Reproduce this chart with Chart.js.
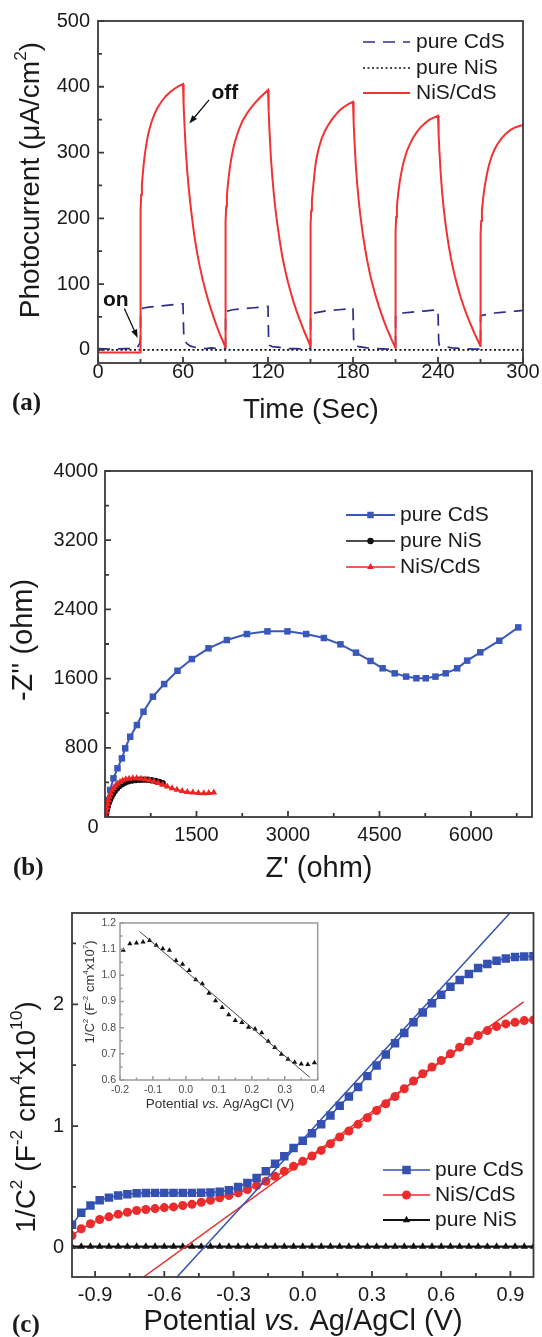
<!DOCTYPE html>
<html lang="en">
<head>
<meta charset="UTF-8">
<title>NiS/CdS photoelectrochemistry</title>
<script src="https://cdn.jsdelivr.net/npm/chart.js"></script>
<style>
    body { margin: 0; background: #fff; }
    #page { position: relative; width: 542px; height: 1337px; }
    canvas { position: absolute; }
</style>
</head>
<body>
<div id="page">
    <canvas id="chartA" width="542" height="425" style="left:0;top:0"></canvas>
    <canvas id="chartB" width="542" height="465" style="left:0;top:430px"></canvas>
    <canvas id="chartC" width="542" height="462" style="left:0;top:875px"></canvas>
    <canvas id="chartInset" width="250" height="205" style="left:80px;top:910px"></canvas>
</div>
<script>
    // (a) photocurrent response, uA/cm2 vs seconds
    const cdsTime = [0, 10, 20, 26, 28, 29.5, 30, 30.1, 33, 36, 40, 45, 50, 55, 60,
        60.2, 60.5, 61, 61.5, 63, 65, 68, 72, 76, 80, 85, 90,
        90.1, 95, 100, 105, 110, 115, 120,
        120.2, 120.5, 121, 123, 127, 133, 140, 145, 150,
        150.1, 155, 160, 165, 170, 175, 180,
        180.2, 180.5, 181, 184, 190, 197, 205, 210,
        210.1, 215, 220, 225, 230, 235, 240,
        240.2, 240.5, 241, 244, 250, 257, 265, 270,
        270.1, 275, 280, 285, 290, 295, 300];
    const cdsCurrent = [2, 1, 2, 2, 4, 10, 18, 62, 64, 65, 66, 67, 68, 69, 70,
        50, 25, 17, 13, 9, 6, 4, 3, 2, 3, 2, 2,
        58, 61, 62, 63, 64, 65, 66,
        40, 12, 7, 5, 4, 2, 2, 1, 2,
        55, 57, 59, 60, 61, 62, 64,
        40, 12, 7, 5, 3, 2, 1, 1,
        54, 56, 57, 58, 59, 60, 61,
        40, 13, 7, 5, 3, 2, 1, 1,
        52, 54, 56, 57, 58, 59, 60];
    const nisTime = [0, 300];
    const nisCurrent = [0, 0];
    const hybridTime = [0, 29.9, 30, 30.1, 30.5, 31, 32, 33, 34, 35, 36, 38, 40, 42, 45, 48, 51, 54, 57, 60,
        60.3, 60.6, 61, 62, 63, 64, 65, 66, 67, 68, 69, 70, 72, 74, 76, 78, 80, 82, 84, 86, 88, 89.9,
        90, 90.1, 90.5, 91, 92, 93, 94, 95, 96, 98, 100, 102, 105, 108, 111, 114, 117, 120,
        120.3, 120.6, 121, 122, 123, 124, 125, 126, 127, 128, 129, 130, 132, 134, 136, 138, 140, 142, 144, 146, 148, 149.9,
        150, 150.1, 150.5, 151, 152, 153, 154, 155, 156, 158, 160, 162, 165, 168, 171, 174, 177, 180,
        180.3, 180.6, 181, 182, 183, 184, 185, 186, 187, 188, 189, 190, 192, 194, 196, 198, 200, 202, 204, 206, 208, 209.9,
        210, 210.1, 210.5, 211, 212, 213, 214, 215, 216, 218, 220, 222, 225, 228, 231, 234, 237, 240,
        240.3, 240.6, 241, 242, 243, 244, 245, 246, 247, 248, 249, 250, 252, 254, 256, 258, 260, 262, 264, 266, 268, 269.9,
        270, 270.1, 270.5, 271, 272, 273, 274, 275, 276, 278, 280, 282, 285, 288, 291, 294, 297, 300];
    const hybridCurrent = [-4, -4, -4, 212, 236, 252, 277, 296, 311, 323, 333, 348, 359, 368, 378, 386, 392, 397, 401, 404,
        398, 372, 345, 302, 272, 247, 226, 207, 190, 174, 160, 147, 125, 106, 89, 74, 60, 47, 35, 24, 14, 4,
        4, 195, 218, 235, 258, 276, 290, 301, 311, 326, 338, 348, 359, 368, 376, 383, 389, 395,
        389, 363, 336, 294, 264, 240, 219, 201, 185, 170, 156, 143, 122, 104, 88, 73, 60, 48, 37, 26, 16, 6,
        6, 190, 212, 228, 250, 272, 288, 299, 308, 322, 332, 340, 350, 358, 365, 370, 374, 377,
        371, 346, 320, 280, 251, 228, 208, 191, 175, 161, 148, 136, 115, 98, 82, 68, 55, 43, 32, 22, 12, 3,
        3, 180, 202, 218, 240, 256, 268, 279, 288, 302, 312, 321, 331, 339, 345, 350, 353, 356,
        350, 327, 302, 265, 238, 216, 197, 181, 166, 153, 141, 130, 111, 95, 80, 67, 55, 44, 34, 24, 15, 6,
        6, 175, 196, 212, 233, 249, 261, 272, 281, 295, 305, 313, 322, 329, 334, 338, 340, 342];
    const timeTicks = [0, 60, 120, 180, 240, 300];
    const timeMarks = [0, 30, 60, 90, 120, 150, 180, 210, 240, 270, 300];
    const currentTicks = [0, 100, 200, 300, 400, 500];
    const currentMarks = [0, 50, 100, 150, 200, 250, 300, 350, 400, 450, 500];

    // (b) Nyquist plots, ohm
    const cdsZre = [5, 31, 85, 139, 205, 277, 331, 413, 523, 631, 785, 970, 1188, 1424, 1697, 1998, 2326, 2663,
        2991, 3298, 3588, 3860, 4115, 4353, 4551, 4749, 4936, 5105, 5258, 5417, 5586, 5773, 5937, 6152, 6464, 6775];
    const cdsZim = [100, 197, 312, 447, 563, 678, 794, 928, 1063, 1217, 1391, 1537, 1691, 1826, 1950, 2046, 2115, 2146,
        2146, 2115, 2069, 1996, 1900, 1804, 1719, 1661, 1623, 1604, 1604, 1623, 1661, 1719, 1808, 1904, 2038, 2192];
    const nisZre = [10, 20, 32, 45, 62, 82, 105, 130, 160, 195, 235, 280, 330, 385, 445, 505, 570, 635, 700, 765, 830, 890, 945];
    const nisZim = [15, 50, 90, 125, 165, 200, 235, 268, 300, 330, 357, 380, 398, 412, 422, 428, 431, 432, 430, 425, 417, 405, 392];
    const hybridZre = [12, 22, 32, 44, 58, 74, 94, 116, 142, 172, 206, 246, 290, 340, 395, 455, 520, 590, 660, 730,
        800, 870, 945, 1020, 1100, 1180, 1265, 1350, 1440, 1530, 1620, 1700, 1783];
    const hybridZim = [10, 60, 108, 150, 195, 235, 270, 305, 335, 362, 385, 405, 422, 435, 443, 447, 447, 443, 436, 425,
        410, 392, 372, 352, 333, 316, 301, 290, 282, 277, 276, 278, 282];
    const zreTicks = [1500, 3000, 4500, 6000];
    const zreMarks = [750, 1500, 2250, 3000, 3750, 4500, 5250, 6000, 6750];
    const zimTicks = [800, 1600, 2400, 3200, 4000];
    const zimMarks = [400, 800, 1200, 1600, 2000, 2400, 2800, 3200, 3600, 4000];

    // (c) Mott-Schottky, 1/C2 in 1e10 F-2 cm4 vs potential (V)
    const potential = [-1.00, -0.96, -0.92, -0.88, -0.84, -0.80, -0.76, -0.72, -0.68, -0.64, -0.60, -0.56, -0.52,
        -0.48, -0.44, -0.40, -0.36, -0.32, -0.28, -0.24, -0.20, -0.16, -0.12, -0.08, -0.04, 0.00, 0.04, 0.08,
        0.12, 0.16, 0.20, 0.24, 0.28, 0.32, 0.36, 0.40, 0.44, 0.48, 0.52, 0.56, 0.60, 0.64, 0.68, 0.72, 0.76,
        0.80, 0.84, 0.88, 0.92, 0.96, 1.00];
    const cdsMs = [0.19, 0.287, 0.347, 0.39, 0.412, 0.429, 0.44, 0.447, 0.45, 0.451, 0.451, 0.451, 0.451,
        0.451, 0.452, 0.455, 0.461, 0.472, 0.50, 0.533, 0.574, 0.628, 0.691, 0.751, 0.82, 0.88, 0.94, 1.014,
        1.087, 1.167, 1.243, 1.32, 1.41, 1.497, 1.587, 1.68, 1.765, 1.852, 1.932, 2.008, 2.079, 2.145, 2.199,
        2.249, 2.298, 2.331, 2.358, 2.377, 2.388, 2.393, 2.395];
    const hybridMs = [0.10, 0.156, 0.197, 0.232, 0.254, 0.276, 0.292, 0.306, 0.314, 0.322, 0.33, 0.336, 0.347,
        0.357, 0.374, 0.39, 0.41, 0.429, 0.451, 0.478, 0.511, 0.546, 0.587, 0.628, 0.669, 0.71, 0.754, 0.80,
        0.855, 0.91, 0.959, 1.014, 1.068, 1.128, 1.183, 1.243, 1.306, 1.37, 1.43, 1.485, 1.538, 1.593, 1.648,
        1.697, 1.743, 1.784, 1.817, 1.839, 1.852, 1.866, 1.872];
    const nisMs = [0.01, 0.01, 0.01, 0.01, 0.01, 0.01, 0.01, 0.01, 0.01, 0.01, 0.01, 0.01, 0.01, 0.01, 0.01,
        0.01, 0.01, 0.01, 0.01, 0.01, 0.01, 0.01, 0.01, 0.01, 0.01, 0.01, 0.01, 0.01, 0.01, 0.01, 0.01, 0.01,
        0.01, 0.01, 0.01, 0.01, 0.01, 0.01, 0.01, 0.01, 0.01, 0.01, 0.01, 0.01, 0.01, 0.01, 0.01, 0.01, 0.01,
        0.01, 0.01];
    const cdsFitV = [-0.545, 0.898];
    const cdsFitMs = [-0.24, 2.75];
    const hybridFitV = [-0.69, 0.957];
    const hybridFitMs = [-0.24, 2.02];
    const potentialTicks = [-0.9, -0.6, -0.3, 0, 0.3, 0.6, 0.9];
    const potentialMarks = [-0.9, -0.75, -0.6, -0.45, -0.3, -0.15, 0, 0.15, 0.3, 0.45, 0.6, 0.75, 0.9];
    const msTicks = [0, 1, 2];
    const msMarks = [0, 0.5, 1, 1.5, 2, 2.5];

    // inset: pure NiS, 1/C2 in 1e7
    const insetV = [-0.19, -0.17, -0.15, -0.13, -0.11, -0.09, -0.07, -0.05, -0.03, -0.01, 0.01, 0.03, 0.05, 0.07,
        0.09, 0.11, 0.13, 0.15, 0.17, 0.19, 0.21, 0.23, 0.25, 0.27, 0.29, 0.31, 0.33, 0.35, 0.37, 0.39];
    const insetMs = [1.096, 1.121, 1.124, 1.127, 1.133, 1.115, 1.102, 1.096, 1.057, 1.042, 1.018, 0.983, 0.968,
        0.932, 0.903, 0.877, 0.849, 0.827, 0.820, 0.802, 0.795, 0.781, 0.748, 0.724, 0.698, 0.679, 0.668, 0.661,
        0.659, 0.666];
    const insetFitV = [-0.141, 0.376];
    const insetFitMs = [1.168, 0.610];
    const insetVTicks = [-0.2, -0.1, 0, 0.1, 0.2, 0.3, 0.4];
    const insetVMarks = [-0.2, -0.15, -0.1, -0.05, 0, 0.05, 0.1, 0.15, 0.2, 0.25, 0.3, 0.35, 0.4];
    const insetMsTicks = [0.6, 0.7, 0.8, 0.9, 1.0, 1.1, 1.2];
    const insetMsMarks = [0.6, 0.65, 0.7, 0.75, 0.8, 0.85, 0.9, 0.95, 1.0, 1.05, 1.1, 1.15, 1.2];

    const SANS = "'Liberation Sans', Arial, Helvetica, sans-serif";
    const SERIF = "'Liberation Serif', 'Times New Roman', serif";
    Chart.defaults.font.family = SANS;
    Chart.defaults.color = '#1a1a1a';

    function pts(xs, ys) {
        return xs.map((x, i) => ({x: x, y: ys[i]}));
    }

    function axis(tickValues, min, max, thick, pad, size, fmt, color) {
        return {
            type: 'linear', min: min, max: max,
            grid: {display: false, drawTicks: false},
            border: {display: false},
            ticks: {padding: pad, font: {size: size, lineHeight: 1}, color: color || '#1a1a1a',
                callback: fmt, autoSkip: false, maxRotation: 0, minRotation: 0},
            afterBuildTicks: s => { s.ticks = tickValues.map(v => ({value: v})); },
            afterFit: s => { if (s.isHorizontal()) s.height = thick; else s.width = thick; }
        };
    }

    function drawMarker(ctx, style, x, y, r, color) {
        ctx.fillStyle = color;
        ctx.beginPath();
        if (style === 'rect') {
            const s = r * Math.SQRT1_2;
            ctx.rect(x - s, y - s, 2 * s, 2 * s);
        } else if (style === 'triangle') {
            ctx.moveTo(x, y - r);
            ctx.lineTo(x + r * 0.866, y + r / 2);
            ctx.lineTo(x - r * 0.866, y + r / 2);
            ctx.closePath();
        } else {
            ctx.arc(x, y, r, 0, Math.PI * 2);
        }
        ctx.fill();
    }

    // box round the plot and inward tick marks
    function framePlugin(cfg) {
        return {
            id: 'frame',
            beforeDatasetsDraw(chart) {
                if (!cfg.fill) return;
                const a = chart.chartArea;
                chart.ctx.save();
                chart.ctx.fillStyle = cfg.fill;
                chart.ctx.fillRect(a.left, a.top, a.right - a.left, a.bottom - a.top);
                chart.ctx.restore();
            },
            afterDraw(chart) {
                const ctx = chart.ctx, a = chart.chartArea;
                const xs = chart.scales.x, ys = chart.scales.y;
                ctx.save();
                ctx.strokeStyle = cfg.color;
                ctx.lineWidth = cfg.width;
                ctx.strokeRect(a.left, a.top, a.right - a.left, a.bottom - a.top);
                ctx.beginPath();
                cfg.xMarks.forEach(v => {
                    const p = xs.getPixelForValue(v);
                    const len = cfg.xMajor.includes(v) ? cfg.major : cfg.minor;
                    ctx.moveTo(p, a.bottom);
                    ctx.lineTo(p, a.bottom - len);
                });
                cfg.yMarks.forEach(v => {
                    const p = ys.getPixelForValue(v);
                    const len = cfg.yMajor.includes(v) ? cfg.major : cfg.minor;
                    ctx.moveTo(a.left, p);
                    ctx.lineTo(a.left + len, p);
                });
                ctx.stroke();
                ctx.restore();
            }
        };
    }

    // titles with superscripts / italics; positions in page pixels
    function textPlugin(items, offX, offY) {
        return {
            id: 'richText',
            afterDraw(chart) {
                const ctx = chart.ctx;
                items.forEach(it => {
                    const fam = it.family || SANS;
                    const fontFor = st => (st === 'i' ? 'italic ' : '') + (it.bold ? 'bold ' : '') +
                        (st === 's' ? it.size * 0.62 : it.size) + 'px ' + fam;
                    ctx.save();
                    ctx.translate(it.x - offX, it.y - offY);
                    if (it.rot) ctx.rotate(-Math.PI / 2);
                    ctx.fillStyle = it.color || '#1a1a1a';
                    ctx.textBaseline = 'middle';
                    ctx.textAlign = 'left';
                    let total = 0;
                    const widths = it.segs.map(sg => {
                        ctx.font = fontFor(sg[1]);
                        const w = ctx.measureText(sg[0]).width;
                        total += w;
                        return w;
                    });
                    let x = it.align === 'left' ? 0 : -total / 2;
                    it.segs.forEach((sg, i) => {
                        ctx.font = fontFor(sg[1]);
                        ctx.fillText(sg[0], x, sg[1] === 's' ? -it.size * 0.36 : 0);
                        x += widths[i];
                    });
                    ctx.restore();
                });
            }
        };
    }

    // legend drawn inside the plot, line sample + marker + label
    function legendPlugin(cfg) {
        return {
            id: 'boxLegend',
            afterDraw(chart) {
                const ctx = chart.ctx;
                chart.data.datasets.forEach(ds => {
                    if (ds.legendRow === undefined) return;
                    const y = cfg.rows[ds.legendRow] - cfg.offY;
                    ctx.save();
                    ctx.strokeStyle = ds.borderColor;
                    ctx.lineWidth = ds.borderWidth;
                    ctx.setLineDash(ds.borderDash || []);
                    ctx.beginPath();
                    ctx.moveTo(cfg.x0, y);
                    ctx.lineTo(cfg.x1, y);
                    ctx.stroke();
                    ctx.setLineDash([]);
                    if (ds.pointRadius > 0) {
                        drawMarker(ctx, ds.pointStyle, (cfg.x0 + cfg.x1) / 2, y, ds.pointRadius, ds.pointBackgroundColor);
                    }
                    ctx.fillStyle = '#1a1a1a';
                    ctx.font = cfg.size + 'px ' + SANS;
                    ctx.textBaseline = 'middle';
                    ctx.textAlign = 'left';
                    ctx.fillText(ds.label, cfg.textX, y);
                    ctx.restore();
                });
            }
        };
    }

    // "on" / "off" arrows in panel (a), placed in data units
    const notesPlugin = {
        id: 'notes',
        afterDatasetsDraw(chart) {
            const ctx = chart.ctx, xs = chart.scales.x, ys = chart.scales.y;
            const notes = [
                {text: 'off', at: [89.6, 390], from: [78.4, 380], to: [64.4, 344]},
                {text: 'on', at: [12.6, 75], from: [18.6, 63], to: [28.0, 18]}
            ];
            ctx.save();
            notes.forEach(n => {
                ctx.fillStyle = '#111';
                ctx.font = 'bold 21px ' + SANS;
                ctx.textAlign = 'center';
                ctx.textBaseline = 'middle';
                ctx.fillText(n.text, xs.getPixelForValue(n.at[0]), ys.getPixelForValue(n.at[1]));
                const x0 = xs.getPixelForValue(n.from[0]), y0 = ys.getPixelForValue(n.from[1]);
                const x1 = xs.getPixelForValue(n.to[0]), y1 = ys.getPixelForValue(n.to[1]);
                const ang = Math.atan2(y1 - y0, x1 - x0);
                ctx.strokeStyle = '#111';
                ctx.lineWidth = 1.3;
                ctx.beginPath();
                ctx.moveTo(x0, y0);
                ctx.lineTo(x1 - 6 * Math.cos(ang), y1 - 6 * Math.sin(ang));
                ctx.stroke();
                ctx.beginPath();
                ctx.moveTo(x1, y1);
                ctx.lineTo(x1 - 9 * Math.cos(ang - 0.35), y1 - 9 * Math.sin(ang - 0.35));
                ctx.lineTo(x1 - 9 * Math.cos(ang + 0.35), y1 - 9 * Math.sin(ang + 0.35));
                ctx.closePath();
                ctx.fill();
            });
            ctx.restore();
        }
    };

    const AXIS = '#3a3a3a';
    const baseOptions = (padding, scales) => ({
        responsive: false,
        animation: false,
        events: [],
        layout: {padding: padding},
        scales: scales,
        plugins: {legend: {display: false}, tooltip: {enabled: false}}
    });
    const str = v => String(v);
    const fix1 = v => Number(v).toFixed(1);

    // ---------- (a)
    new Chart(document.getElementById('chartA'), {
        type: 'scatter',
        data: {
            datasets: [
                {label: 'NiS/CdS', data: pts(hybridTime, hybridCurrent), showLine: true, borderColor: '#f23232',
                    borderWidth: 2, pointRadius: 0, legendRow: 2, order: 0},
                {label: 'pure CdS', data: pts(cdsTime, cdsCurrent), showLine: true, borderColor: '#2e2e88',
                    borderWidth: 1.7, borderDash: [12, 8], pointRadius: 0, legendRow: 0, order: 1},
                {label: 'pure NiS', data: pts(nisTime, nisCurrent), showLine: true, borderColor: '#111',
                    borderWidth: 1.6, borderDash: [2, 2.5], pointRadius: 0, legendRow: 1, order: 2}
            ]
        },
        options: baseOptions({left: 0, right: 19, top: 21, bottom: 0}, {
            x: axis(timeTicks, 0, 300, 62, -1, 20, str),
            y: axis(currentTicks, -20, 500, 98, 8, 20, str)
        }),
        plugins: [
            framePlugin({color: AXIS, width: 1.8, major: 6, minor: 4,
                xMarks: timeMarks, xMajor: timeTicks, yMarks: currentMarks, yMajor: currentTicks}),
            notesPlugin,
            legendPlugin({x0: 363, x1: 410, textX: 416, rows: [42, 68, 93], offY: 0, size: 21}),
            textPlugin([
                {x: 31, y: 180, rot: true, size: 28, segs: [['Photocurrent (\u03bcA/cm', 'n'], ['2', 's'], [')', 'n']]},
                {x: 311, y: 410, size: 28, segs: [['Time (Sec)', 'n']]},
                {x: 12, y: 404, size: 25, bold: true, family: SERIF, align: 'left', segs: [['(a)', 'n']]}
            ], 0, 0)
        ]
    });

    // ---------- (b)
    new Chart(document.getElementById('chartB'), {
        type: 'scatter',
        data: {
            datasets: [
                {label: 'NiS/CdS', data: pts(hybridZre, hybridZim), showLine: true, borderColor: '#ee2424',
                    backgroundColor: '#ee2424', pointBackgroundColor: '#ee2424', borderWidth: 1.5,
                    pointStyle: 'triangle', pointRadius: 4, pointBorderWidth: 0, legendRow: 2, order: 0},
                {label: 'pure NiS', data: pts(nisZre, nisZim), showLine: true, borderColor: '#111',
                    backgroundColor: '#111', pointBackgroundColor: '#111', borderWidth: 1.5,
                    pointStyle: 'circle', pointRadius: 3.2, pointBorderWidth: 0, legendRow: 1, order: 1},
                {label: 'pure CdS', data: pts(cdsZre, cdsZim), showLine: true, borderColor: '#3a58bb',
                    backgroundColor: '#3a58bb', pointBackgroundColor: '#3a58bb', borderWidth: 2,
                    pointStyle: 'rect', pointRadius: 4.6, pointBorderWidth: 0, legendRow: 0, order: 2}
            ]
        },
        options: baseOptions({left: 0, right: 10, top: 41, bottom: 0}, {
            x: axis(zreTicks, 0, 7000, 78, 8, 20, str),
            y: axis(zimTicks, 0, 4000, 105, 7, 20, str)
        }),
        plugins: [
            framePlugin({color: AXIS, width: 1.8, major: 6, minor: 4,
                xMarks: zreMarks, xMajor: zreTicks, yMarks: zimMarks, yMajor: zimTicks}),
            legendPlugin({x0: 346, x1: 395, textX: 400, rows: [515, 541, 567], offY: 430, size: 21}),
            textPlugin([
                {x: 24, y: 640, rot: true, size: 29, segs: [["-Z'' (ohm)", 'n']]},
                {x: 319, y: 869, size: 29, segs: [["Z' (ohm)", 'n']]},
                {x: 93, y: 827, size: 20, segs: [['0', 'n']]},
                {x: 13, y: 869, size: 25, bold: true, family: SERIF, align: 'left', segs: [['(b)', 'n']]}
            ], 0, 430)
        ]
    });

    // ---------- (c)
    new Chart(document.getElementById('chartC'), {
        type: 'scatter',
        data: {
            datasets: [
                {label: 'cds fit', data: pts(cdsFitV, cdsFitMs), showLine: true, borderColor: '#3451b2',
                    borderWidth: 1.5, pointRadius: 0, order: 0},
                {label: 'hybrid fit', data: pts(hybridFitV, hybridFitMs), showLine: true, borderColor: '#ea2c2c',
                    borderWidth: 1.5, pointRadius: 0, order: 1},
                {label: 'pure CdS', data: pts(potential, cdsMs), showLine: true, borderColor: '#3451b2',
                    backgroundColor: '#3451b2', pointBackgroundColor: '#3451b2', borderWidth: 1.5,
                    pointStyle: 'rect', pointRadius: 6, pointBorderWidth: 0, legendRow: 0, order: 2},
                {label: 'NiS/CdS', data: pts(potential, hybridMs), showLine: true, borderColor: '#ea2c2c',
                    backgroundColor: '#ea2c2c', pointBackgroundColor: '#ea2c2c', borderWidth: 1.5,
                    pointStyle: 'circle', pointRadius: 4.5, pointBorderWidth: 0, legendRow: 1, order: 3},
                {label: 'pure NiS', data: pts(potential, nisMs), showLine: true, borderColor: '#111',
                    backgroundColor: '#111', pointBackgroundColor: '#111', borderWidth: 2.2,
                    pointStyle: 'triangle', pointRadius: 4.3, pointBorderWidth: 0, legendRow: 2, order: 4}
            ]
        },
        options: baseOptions({left: 0, right: 8.5, top: 38, bottom: 0}, {
            x: axis(potentialTicks, -1, 1, 60, 8, 20, fix1),
            y: axis(msTicks, -0.24, 2.75, 72, 8, 20, str)
        }),
        plugins: [
            framePlugin({color: AXIS, width: 1.8, major: 6, minor: 4,
                xMarks: potentialMarks, xMajor: potentialTicks, yMarks: msMarks, yMajor: msTicks}),
            legendPlugin({x0: 383, x1: 430, textX: 435, rows: [1170, 1195, 1220], offY: 875, size: 21}),
            textPlugin([
                {x: 27, y: 1117, rot: true, size: 28, segs: [['1/C', 'n'], ['2', 's'], [' (F', 'n'], ['-2', 's'],
                    [' cm', 'n'], ['4', 's'], ['x10', 'n'], ['10', 's'], [')', 'n']]},
                {x: 303, y: 1322, size: 29, segs: [['Potential ', 'n'], ['vs.', 'i'], [' Ag/AgCl (V)', 'n']]},
                {x: 12, y: 1326, size: 25, bold: true, family: SERIF, align: 'left', segs: [['(c)', 'n']]}
            ], 0, 875)
        ]
    });

    // ---------- inset of (c)
    new Chart(document.getElementById('chartInset'), {
        type: 'scatter',
        data: {
            datasets: [
                {label: 'fit', data: pts(insetFitV, insetFitMs), showLine: true, borderColor: '#444',
                    borderWidth: 1, pointRadius: 0, order: 0},
                {label: 'pure NiS', data: pts(insetV, insetMs), showLine: false, backgroundColor: '#111',
                    pointBackgroundColor: '#111', pointStyle: 'triangle', pointRadius: 3, pointBorderWidth: 0, order: 1}
            ]
        },
        options: baseOptions({left: 0, right: 10, top: 13, bottom: 0}, {
            x: axis(insetVTicks, -0.2, 0.4, 35, 5, 10.5, fix1, '#4a4a4a'),
            y: axis(insetMsTicks, 0.6, 1.2, 40, 4, 10.5, fix1, '#4a4a4a')
        }),
        plugins: [
            framePlugin({color: '#9a9a9a', width: 1.5, major: 4, minor: 2.5, fill: '#fff',
                xMarks: insetVMarks, xMajor: insetVTicks, yMarks: insetMsMarks, yMajor: insetMsTicks}),
            textPlugin([
                {x: 220, y: 1104, size: 13.5, color: '#333', segs: [['Potential ', 'n'], ['vs.', 'i'], [' Ag/AgCl (V)', 'n']]},
                {x: 90, y: 992, rot: true, size: 13, color: '#333', segs: [['1/C', 'n'], ['2', 's'], [' (F', 'n'],
                    ['-2', 's'], [' cm', 'n'], ['4', 's'], ['x10', 'n'], ['7', 's'], [')', 'n']]}
            ], 80, 910)
        ]
    });
</script>
</body>
</html>
